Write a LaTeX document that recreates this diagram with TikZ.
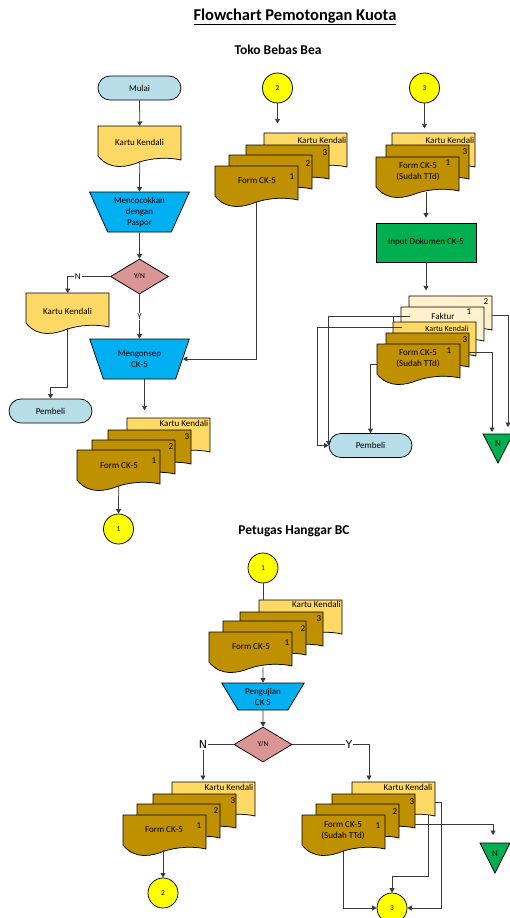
\documentclass[tikz,border=0pt]{standalone}
\usepackage{fontspec}
\setmainfont{Carlito}
\newfontfamily\dejavu{DejaVu Sans}
\usetikzlibrary{arrows.meta,shapes.geometric,shapes.misc}

\definecolor{termblue}{HTML}{B7DEE8}
\definecolor{kartu}{HTML}{FFD966}
\definecolor{gold}{HTML}{BF9000}
\definecolor{cream}{HTML}{FFF2CC}
\definecolor{cyanbox}{HTML}{00B0F0}
\definecolor{greenbox}{HTML}{00B050}
\definecolor{rose}{HTML}{DA9694}
\definecolor{connyellow}{HTML}{FFFF00}
\definecolor{wire}{HTML}{3A3A3A}

\tikzset{
  outline/.style={draw=black, line width=0.75pt},
  flow/.style={draw=wire, line width=0.75pt},
  arr/.style={flow, -{Triangle[width=5pt,length=4.5pt]}},
  txt/.style={font=\fontsize{9}{11}\selectfont, inner sep=0pt, align=center},
  smalltxt/.style={font=\fontsize{8}{10}\selectfont, inner sep=0pt, align=center},
  lbl/.style={font=\fontsize{9}{11}\selectfont, fill=white, inner sep=1pt},
  biglbl/.style={font=\dejavu\fontsize{11}{13}\selectfont, fill=white, inner sep=1pt},
  term/.style={outline, fill=termblue, rounded rectangle, minimum width=83pt,
    minimum height=24pt, inner sep=0pt, font=\fontsize{9}{11}\selectfont},
  manual/.style={outline, fill=cyanbox, trapezium, shape border rotate=180,
    trapezium stretches=true, trapezium left angle=64, trapezium right angle=64,
    minimum width=100pt, minimum height=40pt, inner sep=0pt, align=center,
    font=\fontsize{9}{11}\selectfont},
  decision/.style={outline, fill=rose, diamond, minimum width=58pt,
    minimum height=35pt, inner sep=0pt, font=\fontsize{7.5}{9}\selectfont},
  onpage/.style={outline, fill=connyellow, circle, minimum size=30pt,
    inner sep=0pt, font=\fontsize{7.5}{9}\selectfont},
  offpage/.style={outline, fill=greenbox},
  heading/.style={font=\bfseries\fontsize{13.5}{16}\selectfont, inner sep=0pt},
}

% document sheet with a wavy lower edge: name, left x, top y, fill colour
\newcommand{\docsheet}[4]{%
  \begin{scope}[shift={(#2,#3)}]
    \path[outline, fill=#4] (0,0) -- (83,0) -- (83,34)
      .. controls (70.5,31) and (54,32) .. (41.5,36)
      .. controls (29,41) and (12,45) .. (0,30) -- cycle;
  \end{scope}
  \node[inner sep=0pt, minimum width=83pt, minimum height=35pt,
    anchor=north west] (#1) at (#2,#3) {};%
}

\begin{document}
\begin{tikzpicture}[x=1pt, y=-1pt]
\useasboundingbox (0,0) rectangle (510,918);

% ---------- headings ----------
\node[font=\bfseries\fontsize{16.5}{19}\selectfont, inner sep=0pt] (title) at (295,17) {\underline{Flowchart Pemotongan Kuota}};
\node[heading] (sec1) at (278,50) {Toko Bebas Bea};
\node[heading] (sec2) at (294,531) {Petugas Hanggar BC};

% ---------- Toko Bebas Bea: left column ----------
\node[term] (mulai) at (139.5,88) {Mulai};
\docsheet{kk1}{98}{126}{kartu}
\node[txt] at (139.5,142) {Kartu Kendali};
\node[manual] (cocok) at (139.5,212) {Mencocokkan\\dengan\\Paspor};
\node[decision] (yn1) at (139.5,276.5) {Y/N};
\docsheet{kk2}{26}{293}{kartu}
\node[txt] at (67.5,311) {Kartu Kendali};
\node[term] (pemb1) at (50.5,411) {Pembeli};
\node[manual] (konsep) at (139.5,359) {Mengonsep\\CK-5};

% stack after Mengonsep
\docsheet{kk3}{127}{418}{kartu}
\node[txt, anchor=east] at (208.5,423) {Kartu Kendali};
\docsheet{st1c}{108}{430}{gold}
\node[txt] at (187,437) {3};
\docsheet{st1b}{92}{440}{gold}
\node[txt] at (171,447) {2};
\docsheet{st1a}{77}{450}{gold}
\node[txt] at (154,461) {1};
\node[txt] at (119,466) {Form CK-5};
\node[onpage] (c1a) at (118.5,529) {1};

% ---------- Toko Bebas Bea: middle column ----------
\node[onpage] (c2a) at (277.5,88) {2};
\docsheet{kk4}{264}{133}{kartu}
\node[txt, anchor=east] at (346.5,140) {Kartu Kendali};
\docsheet{st2c}{246}{145}{gold}
\node[txt] at (325,153) {3};
\docsheet{st2b}{229}{155}{gold}
\node[txt] at (308,164) {2};
\docsheet{st2a}{215}{166}{gold}
\node[txt] at (292,177) {1};
\node[txt] at (257,181) {Form CK-5};

% ---------- Toko Bebas Bea: right column ----------
\node[onpage] (c3a) at (424.5,88) {3};
\docsheet{kk5}{392}{133}{kartu}
\node[txt, anchor=east] at (474.5,140) {Kartu Kendali};
\docsheet{st3b}{386}{145}{gold}
\node[txt] at (465,152) {3};
\docsheet{st3a}{376}{157}{gold}
\node[txt] at (448,163) {1};
\node[txt] at (418,171.5) {Form CK-5\\(Sudah TTd)};
\node[outline, fill=greenbox, minimum width=100pt, minimum height=39pt,
  font=\fontsize{9}{11}\selectfont] (input) at (426,242.5) {Input Dokumen CK-5};

\docsheet{fk2}{409}{296}{cream}
\node[txt] at (486,302) {2};
\docsheet{fk1}{401}{307}{cream}
\node[txt] at (469,312) {1};
\node[txt] at (443,316) {Faktur};
\docsheet{kk6}{393}{322}{kartu}
\node[smalltxt] at (447,329) {Kartu Kendali};
\docsheet{st4b}{386}{333}{gold}
\node[txt] at (465,340) {3};
\docsheet{st4a}{377}{344}{gold}
\node[txt] at (449,351) {1};
\node[txt] at (418,359) {Form CK-5\\(Sudah TTd)};
\node[term] (pemb2) at (370.5,445.5) {Pembeli};
\path[offpage] (483,434) -- (513,434) -- (498,463) -- cycle;
\node[txt] (offn1) at (498,444) {N};
\coordinate (n1a) at (492,432);
\coordinate (n1b) at (508,427);

% ---------- Petugas Hanggar BC ----------
\node[onpage] (c1b) at (263,568) {1};
\docsheet{kk7}{259}{600}{kartu}
\node[txt, anchor=east] at (341,604) {Kartu Kendali};
\docsheet{st5c}{240}{612}{gold}
\node[txt] at (319,619) {3};
\docsheet{st5b}{223}{621}{gold}
\node[txt] at (303,629) {2};
\docsheet{st5a}{209}{632}{gold}
\node[txt] at (287,643) {1};
\node[txt] at (251,647) {Form CK-5};
\node[manual, trapezium left angle=55.6, trapezium right angle=55.6,
  minimum width=83pt, minimum height=27pt] (uji) at (263,696.5) {Pengujian\\CK 5};
\node[decision] (yn2) at (263,744.5) {Y/N};

% N branch
\docsheet{kk8}{172}{782}{kartu}
\node[txt, anchor=east] at (253.5,787) {Kartu Kendali};
\docsheet{st6c}{153}{794}{gold}
\node[txt] at (233,801) {3};
\docsheet{st6b}{137}{804}{gold}
\node[txt] at (216,811) {2};
\docsheet{st6a}{123}{815}{gold}
\node[txt] at (199,826) {1};
\node[txt] at (164,830) {Form CK-5};
\node[onpage] (c2b) at (163,893) {2};
\coordinate (n2in) at (203,780);

% Y branch
\docsheet{kk9}{352}{782}{kartu}
\node[txt, anchor=east] at (432.5,787) {Kartu Kendali};
\docsheet{st7c}{332}{794}{gold}
\node[txt] at (412,802) {3};
\docsheet{st7b}{316}{804}{gold}
\node[txt] at (395,812) {2};
\docsheet{st7a}{302}{815}{gold}
\node[txt] at (378,826) {1};
\node[txt] at (343,830.5) {Form CK-5\\(Sudah TTd)};
\node[onpage] (c3b) at (392,908) {3};
\coordinate (y2in) at (369,780);
\path[offpage] (480,843) -- (510,843) -- (495,873) -- cycle;
\node[txt] (offn2) at (495,854) {N};
\coordinate (n2a) at (493,835);

% ---------- connectors: Toko Bebas Bea ----------
\draw[arr] (mulai) -- (kk1.north);
\draw[arr] (kk1.south) -- (cocok.north);
\draw[arr] (cocok.south) -- (yn1.north);
\draw[arr] (yn1.west) -| node[pos=0.38, lbl] {N} (kk2.north);
\draw[arr] (yn1.south) -- node[lbl] {Y} (konsep.north);
\draw[arr] (kk2.south) -- ++(0,59) -| (pemb1.north);
\draw[arr] (st2a.south) |- (konsep.east);
\draw[arr] ([xshift=5pt]konsep.south) -- ++(0,31);
\draw[arr] (st1a.south) -- (c1a.north);
\draw[arr] (c2a.south) -- ++(0,20);
\draw[arr] (c3a.south) -- ++(0,25);
\draw[arr] (st3a.south -| input.north) -- ([yshift=5pt]input.north);
\draw[arr] (input.south) -- ++(0,28);
\draw[arr] ([shift={(9,9)}]fk1.north west) -| (pemb2.west);
\draw[arr] ([shift={(9,5)}]kk6.north west) -- ++(-85,0) |- (pemb2.west);
\draw[flow] ([shift={(0,-6)}]kk6.north west) -- (kk6.north west);
\draw[arr] ([yshift=-20pt]st4a.north west) -| (pemb2.north);
\draw[arr] ([yshift=-19pt]st4b.north east) -| (n1a);
\draw[arr] ([yshift=-19pt]fk2.north east) -| (n1b);

% ---------- connectors: Petugas Hanggar BC ----------
\draw[flow] (c1b.south) -- (c1b.south |- kk7.north);
\draw[arr] (c1b.south |- st5a.south) -- (uji.north);
\draw[arr] (uji.south) -- (yn2.north);
\draw[arr] (yn2.west) -| node[biglbl] {N} (n2in);
\draw[arr] (yn2.east) -| node[pos=0.37, biglbl] {Y} (y2in);
\draw[arr] (st6a.south -| c2b.north) -- (c2b.north);
\draw[arr] (st7a.south) |- (c3b.west);
\draw[arr] ([yshift=-20pt]kk9.north east) -- ++(6,0) |- (c3b.east);
\draw[arr] ([shift={(-7,33)}]kk9.north east) -- ++(0,61) -| (c3b.north);
\draw[arr] ([yshift=-30pt]st7c.north east) -| (n2a);
\end{tikzpicture}
\end{document}
